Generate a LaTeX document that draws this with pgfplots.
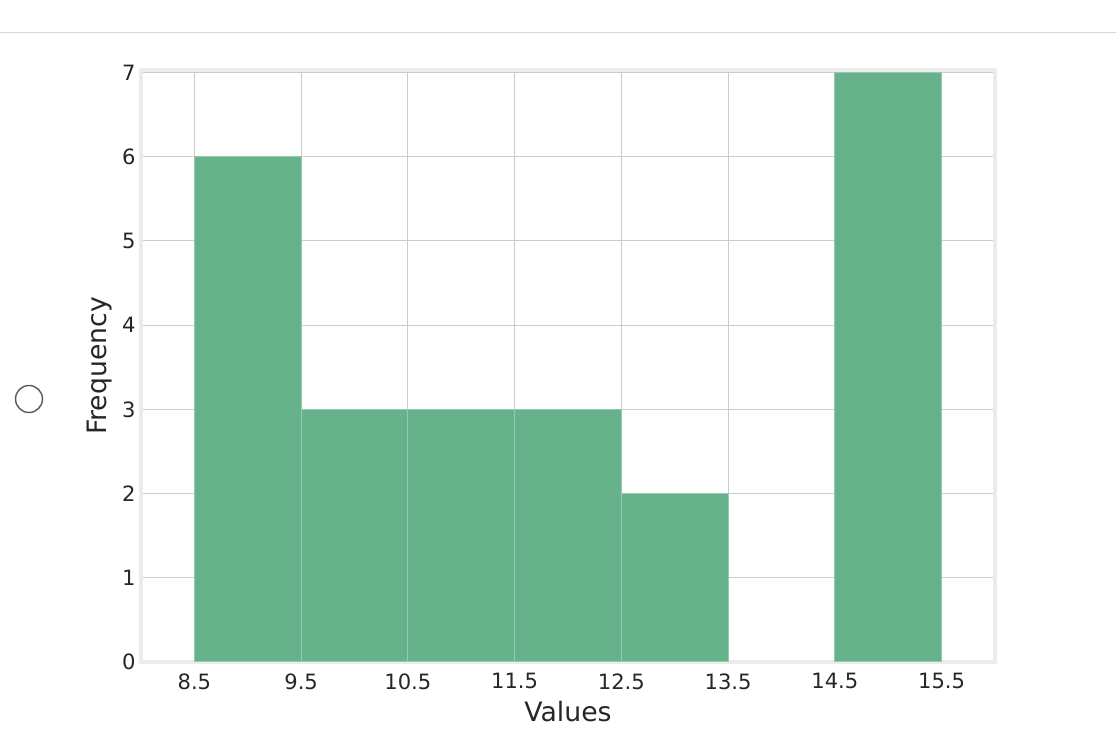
\documentclass[border=0pt]{standalone}
\usepackage{fontspec}
\setmainfont{DejaVu Sans}
\usepackage{pgfplots}
\usepackage{pgfplotstable}
\pgfplotsset{compat=1.18}
\definecolor{barcol}{HTML}{66B38B}
\definecolor{gridcol}{HTML}{CCCCCC}
\definecolor{framecol}{HTML}{ECECEC}

% left bin edges; the last row closes the final bin
\pgfplotstableread{
x     f
8.5   6
9.5   3
10.5  3
11.5  3
12.5  2
13.5  0
14.5  7
15.5  7
}\histdata

\begin{document}
\begin{tikzpicture}[x=0.1mm,y=0.1mm]
\useasboundingbox (0,0) rectangle (1116,733);
\draw[gridcol!80, line width=0.1mm] (0,700) -- (1116,700);
\draw[black!65, line width=0.14mm] (29,334) circle (13.5);
\begin{axis}[
    at={(14.1mm,7.1mm)}, anchor=south west,
    scale only axis,
    width=85.4mm, height=59.2mm,
    xmin=8, xmax=16, ymin=0, ymax=7.03,
    xtick={8.5,9.5,10.5,11.5,12.5,13.5,14.5,15.5},
    xticklabels={8.5,9.5,10.5,11.5,12.5,13.5,14.5,15.5},
    ytick={0,1,...,7},
    major tick length=0pt,
    grid=major,
    major grid style={gridcol, line width=0.1mm},
    axis line style={framecol, line width=0.35mm},
    tick label style={font=\fontsize{6}{7}\selectfont, text=black!85},
    /pgf/number format/assume math mode=true,
    xticklabel style={yshift=0.1mm},
    yticklabel style={xshift=0.7mm},
    label style={font=\fontsize{7.6}{9}\selectfont, text=black!85},
    xlabel={Values},
    ylabel={Frequency},
    xlabel style={yshift=1.2mm},
    ylabel style={yshift=-1.4mm},
]
\addplot[ybar interval, fill=barcol, draw=barcol!70!white, line width=0.1mm,
    forget plot, restrict x to domain=8.5:13.5]
  table[x=x, y=f] {\histdata};
\addplot[ybar interval, fill=barcol, draw=barcol!70!white, line width=0.1mm,
    forget plot, restrict x to domain=14.5:15.5]
  table[x=x, y=f] {\histdata};
\end{axis}
\end{tikzpicture}
\end{document}
